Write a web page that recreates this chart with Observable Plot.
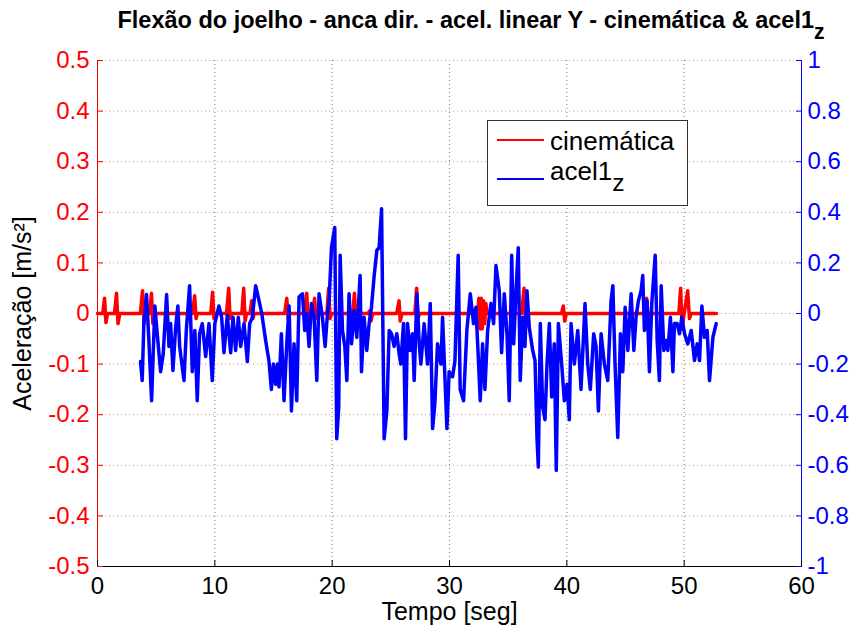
<!DOCTYPE html>
<html>
<head>
<meta charset="utf-8">
<script src="https://cdn.jsdelivr.net/npm/d3@7"></script>
<script src="https://cdn.jsdelivr.net/npm/@observablehq/plot@0.6"></script>
<style>
  body { margin: 0; background: #fff; font-family: "Liberation Sans", Arial, Helvetica, sans-serif; }
  #wrap { position: relative; width: 860px; height: 634px; overflow: hidden; }
  #title { position: relative; height: 40px; }
  #title span.t { position: absolute; left: 0; width: 942px; top: 7px; text-align: center; font-weight: bold; font-size: 23.5px; line-height: 26px; white-space: nowrap; color: #000; }
  .sub { position: relative; top: 0.5em; font-size: 0.9em; }
  #legend { position: absolute; left: 487px; top: 120px; width: 199px; height: 84px; border: 1px solid #333; background: #fff; }
  #legend .sw { position: absolute; left: 9px; width: 47px; height: 0; border-top: 2.5px solid; }
  #legend .lb { position: absolute; left: 62px; font-size: 26px; line-height: 26px; white-space: nowrap; color: #000; }
  #legend .lb .sub { top: 0.45em; font-size: 0.95em; }
</style>
</head>
<body>
<div id="wrap">
  <div id="title"><span class="t">Flexão do joelho - anca dir. - acel. linear Y - cinemática &amp; acel1<span class="sub">z</span></span></div>
  <div id="chart"></div>
  <div id="legend">
    <div class="sw" style="top:18px;border-color:#ff0000"></div>
    <div class="lb" style="top:7px">cinemática</div>
    <div class="sw" style="top:57px;border-color:#0000ff"></div>
    <div class="lb" style="top:37px">acel1<span class="sub">z</span></div>
  </div>
</div>
<script>
// ---- tick labels ----
const xTicks = [0, 10, 20, 30, 40, 50, 60];
const leftTicks = [-0.5, -0.4, -0.3, -0.2, -0.1, 0, 0.1, 0.2, 0.3, 0.4, 0.5];
const rightTicks = [-1, -0.8, -0.6, -0.4, -0.2, 0, 0.2, 0.4, 0.6, 0.8, 1];

// ---- cinemática (left axis, m/s²) ----
const cinT = [0, 0.45, 0.6, 0.72, 0.85, 1.45, 1.62, 1.75, 1.9, 3.65, 3.84, 3.97, 4.1, 4.45, 4.6, 4.72, 4.85,
  8.1, 8.28, 8.4, 8.5, 9.65, 9.81, 9.93, 10.05, 11.0, 11.18, 11.3, 11.42, 12.3, 12.46, 12.58, 12.7,
  13.0, 13.14, 13.25, 13.35, 15.95, 16.13, 16.25, 16.35, 17.65, 17.83, 17.95, 18.05, 18.35, 18.5, 18.62, 18.75,
  19.55, 19.7, 19.82, 19.95, 21.75, 21.9, 22.02, 22.15, 23.05, 23.2, 23.3, 23.45, 25.5, 25.7, 25.8, 25.95,
  27.05, 27.2, 27.32, 27.45, 32.4, 32.5, 32.6, 32.7, 32.8, 32.9, 33.0, 33.1, 33.2,
  36.15, 36.35, 36.5, 36.65, 39.55, 39.7, 39.82, 39.95, 46.65, 46.8, 46.92, 47.05,
  49.55, 49.7, 49.82, 50.0, 50.3, 50.45, 50.6, 52.75];
const cinV = [0, 0, 0.03, -0.018, 0, 0, 0.04, -0.02, 0, 0, 0.045, -0.02, 0, 0, 0.04, -0.02, 0,
  0, 0.035, -0.01, 0, 0, 0.042, -0.01, 0, 0, 0.05, -0.01, 0, 0, 0.05, -0.015, 0,
  0, 0.025, -0.01, 0, 0, 0.03, -0.01, 0, 0, 0.04, -0.01, 0, 0, 0.03, -0.01, 0,
  0, 0.05, -0.01, 0, 0, 0.04, -0.01, 0, 0, 0.005, -0.015, 0, 0, 0.025, -0.015, 0,
  0, 0.05, -0.01, 0, 0, 0.03, -0.03, 0.03, -0.03, 0.025, -0.02, 0.02, 0,
  0, 0.05, -0.025, 0, 0, 0.015, -0.015, 0, 0, 0.03, -0.005, 0,
  0, 0.05, -0.03, 0, 0.045, -0.01, 0, 0];

// ---- acel1_z (right axis) ----
const acelT = [3.67, 3.81, 3.95, 4.18, 4.38, 4.61, 4.89, 5.09, 5.38, 5.6, 5.89, 6.09, 6.23, 6.43, 6.66, 6.85, 7.0, 7.37, 7.57, 7.85,
  8.08, 8.3, 8.5, 8.7, 8.93, 9.22, 9.5, 9.78, 10.0, 10.35, 10.58, 10.78, 11.06, 11.35, 11.55, 11.77, 12.0, 12.2, 12.49, 12.77,
  12.97, 13.2, 13.48, 13.77, 14.0, 14.33, 14.62, 14.82, 14.99, 15.19, 15.33, 15.47, 15.67, 15.9, 16.13, 16.33, 16.53, 16.75, 16.98, 17.18,
  17.47, 17.66, 17.83, 18.03, 18.23, 18.46, 18.69, 18.88, 19.17, 19.4, 19.6, 19.74, 19.94, 20.22, 20.39, 20.56, 20.68, 20.88, 21.08, 21.25,
  21.44, 21.65, 21.87, 22.1, 22.38, 22.5, 22.72, 22.95, 23.15, 23.35, 23.58, 23.81, 24.0, 24.21, 24.43, 24.66, 24.86, 25.06, 25.28, 25.51,
  25.71, 25.85, 26.08, 26.25, 26.42, 26.65, 26.85, 26.99, 27.22, 27.42, 27.56, 27.84, 28.13, 28.36, 28.56, 28.75, 28.98, 29.27, 29.41, 29.78,
  29.97, 30.26, 30.46, 30.74, 30.91, 31.2, 31.48, 31.77, 32.05, 32.25, 32.4, 32.62, 32.82, 33.02, 33.25, 33.53, 33.76, 33.96, 34.24, 34.44,
  34.67, 34.9, 35.09, 35.3, 35.47, 35.67, 35.86, 36.03, 36.24, 36.43, 36.6, 36.8, 37.09, 37.29, 37.46, 37.57, 37.74, 37.94, 38.14, 38.31,
  38.51, 38.71, 38.93, 39.1, 39.28, 39.56, 39.79, 40.02, 40.21, 40.36, 40.64, 40.93, 41.21, 41.55, 41.78, 42.0, 42.29, 42.49, 42.69, 42.92,
  43.2, 43.49, 43.77, 43.92, 44.11, 44.34, 44.57, 44.77, 44.97, 45.2, 45.48, 45.71, 45.9, 46.1, 46.33, 46.47, 46.61, 46.84, 47.04, 47.24,
  47.53, 47.7, 47.89, 48.04, 48.27, 48.46, 48.61, 48.83, 49.04, 49.17, 49.4, 49.6, 49.8, 50.03, 50.31, 50.6, 50.88, 51.11, 51.31, 51.51,
  51.73, 51.96, 52.16, 52.45, 52.73];
const acelV = [-0.19, -0.265, -0.04, 0.075, -0.107, -0.345, 0.03, -0.08, -0.23, -0.16, 0.075, -0.13, -0.04, -0.225, -0.055, 0.03, -0.13, -0.265, -0.067, 0.11,
  -0.23, -0.067, -0.345, -0.08, -0.04, -0.17, -0.04, -0.265, -0.04, 0.03, -0.015, -0.155, -0.008, -0.155, -0.015, -0.146, -0.015, -0.13, -0.04, -0.19,
  -0.04, -0.015, 0.11, 0.05, 0.0, -0.107, -0.19, -0.3, -0.2, -0.28, -0.2, -0.29, -0.08, -0.345, -0.12, 0.03, -0.385, -0.12, -0.345, 0.065,
  0.078, -0.067, 0, -0.13, 0.04, -0.015, -0.265, 0.078, -0.015, -0.13, 0, 0.05, 0.26, 0.34, -0.495, -0.37, 0.23, -0.067, -0.13, -0.265,
  0.078, -0.12, 0.012, -0.094, 0.15, -0.23, -0.015, -0.146, -0.04, 0.025, 0.15, 0.25, 0.26, 0.414, -0.495, -0.385, -0.067, -0.08, -0.13, -0.08,
  -0.16, -0.2, -0.04, -0.495, -0.04, -0.146, -0.08, -0.265, 0.078, -0.12, -0.2, -0.04, -0.2, 0.04, -0.455, -0.357, -0.12, -0.2, -0.015, -0.455,
  -0.23, -0.25, -0.19, 0.23, -0.3, -0.345, -0.067, 0.078, -0.04, 0.025, -0.12, -0.345, -0.12, -0.3, -0.067, 0.04, -0.04, 0.19, 0.09, -0.155,
  0.078, -0.08, -0.345, 0.23, -0.12, 0.09, 0.26, -0.265, -0.015, -0.13, 0.09, -0.055, -0.146, -0.186, -0.495, -0.607, -0.04, -0.37, -0.42, -0.2,
  -0.04, -0.33, -0.12, -0.62, -0.04, -0.2, -0.345, -0.28, -0.42, -0.04, -0.2, -0.067, -0.3, 0.04, -0.2, -0.3, -0.08, -0.13, -0.385, -0.08,
  -0.2, -0.265, 0.05, 0.11, -0.2, -0.49, -0.08, -0.23, 0.025, -0.146, 0.078, -0.146, -0.015, 0.05, 0.09, 0.15, -0.067, 0.05, -0.23, 0.04,
  0.23, -0.107, -0.265, 0.11, -0.146, -0.107, -0.146, -0.015, -0.23, -0.04, -0.04, -0.08, -0.015, -0.08, -0.12, -0.067, -0.186, -0.12, -0.186, 0.03,
  -0.094, -0.067, -0.265, -0.094, -0.04];

const cin = cinT.map((t, i) => ({t, v: cinV[i]}));
const acel = acelT.map((t, i) => ({t, v: acelV[i]}));

const fmt = d => String(+(+d).toFixed(1));
const font = "Liberation Sans, Arial, Helvetica, sans-serif";

const chart = Plot.plot({
  width: 860,
  height: 594,
  marginTop: 20,
  marginBottom: 68,
  marginLeft: 97,
  marginRight: 59,
  style: {fontFamily: font, fontSize: "24px", background: "white", overflow: "visible"},
  x: {domain: [0, 60]},
  y: {domain: [-0.5, 0.5]},
  marks: [
    Plot.gridX(xTicks.slice(1, -1), {stroke: "#777", strokeOpacity: 1, strokeDasharray: "1,3"}),
    Plot.gridY(leftTicks.slice(1), {stroke: "#d88", strokeOpacity: 1, strokeDasharray: "1,3"}),
    Plot.line(cin, {x: "t", y: "v", stroke: "#ff0000", strokeWidth: 3.5}),
    Plot.line(acel, {x: "t", y: d => d.v / 2, stroke: "#0000ff", strokeWidth: 3.5}),
    Plot.ruleY([-0.5], {stroke: "#000", strokeWidth: 1}),
    Plot.ruleX([0], {stroke: "#ff0000", strokeWidth: 1}),
    Plot.ruleX([60], {stroke: "#0000ff", strokeWidth: 1}),
    Plot.axisX(xTicks, {anchor: "bottom", tickSize: -6, tickPadding: 16, color: "#000", label: null, tickFormat: fmt, fontSize: 24}),
    Plot.axisY(leftTicks, {anchor: "left", tickSize: -6, tickPadding: 14, color: "#ff0000", label: null, tickFormat: fmt, fontSize: 24}),
    Plot.axisY(rightTicks.map(d => d / 2), {anchor: "right", tickSize: -6, tickPadding: 12, color: "#0000ff", label: null, tickFormat: d => fmt(d * 2), fontSize: 24}),
    Plot.text(["Tempo [seg]"], {frameAnchor: "bottom", dy: 45, lineAnchor: "middle", textAnchor: "middle", fontSize: 25, fill: "#000"}),
    Plot.text(["Aceleração [m/s²]"], {frameAnchor: "left", dx: -75, rotate: -90, lineAnchor: "middle", textAnchor: "middle", fontSize: 25, fill: "#000"})
  ]
});
document.getElementById("chart").appendChild(chart);
</script>
</body>
</html>
